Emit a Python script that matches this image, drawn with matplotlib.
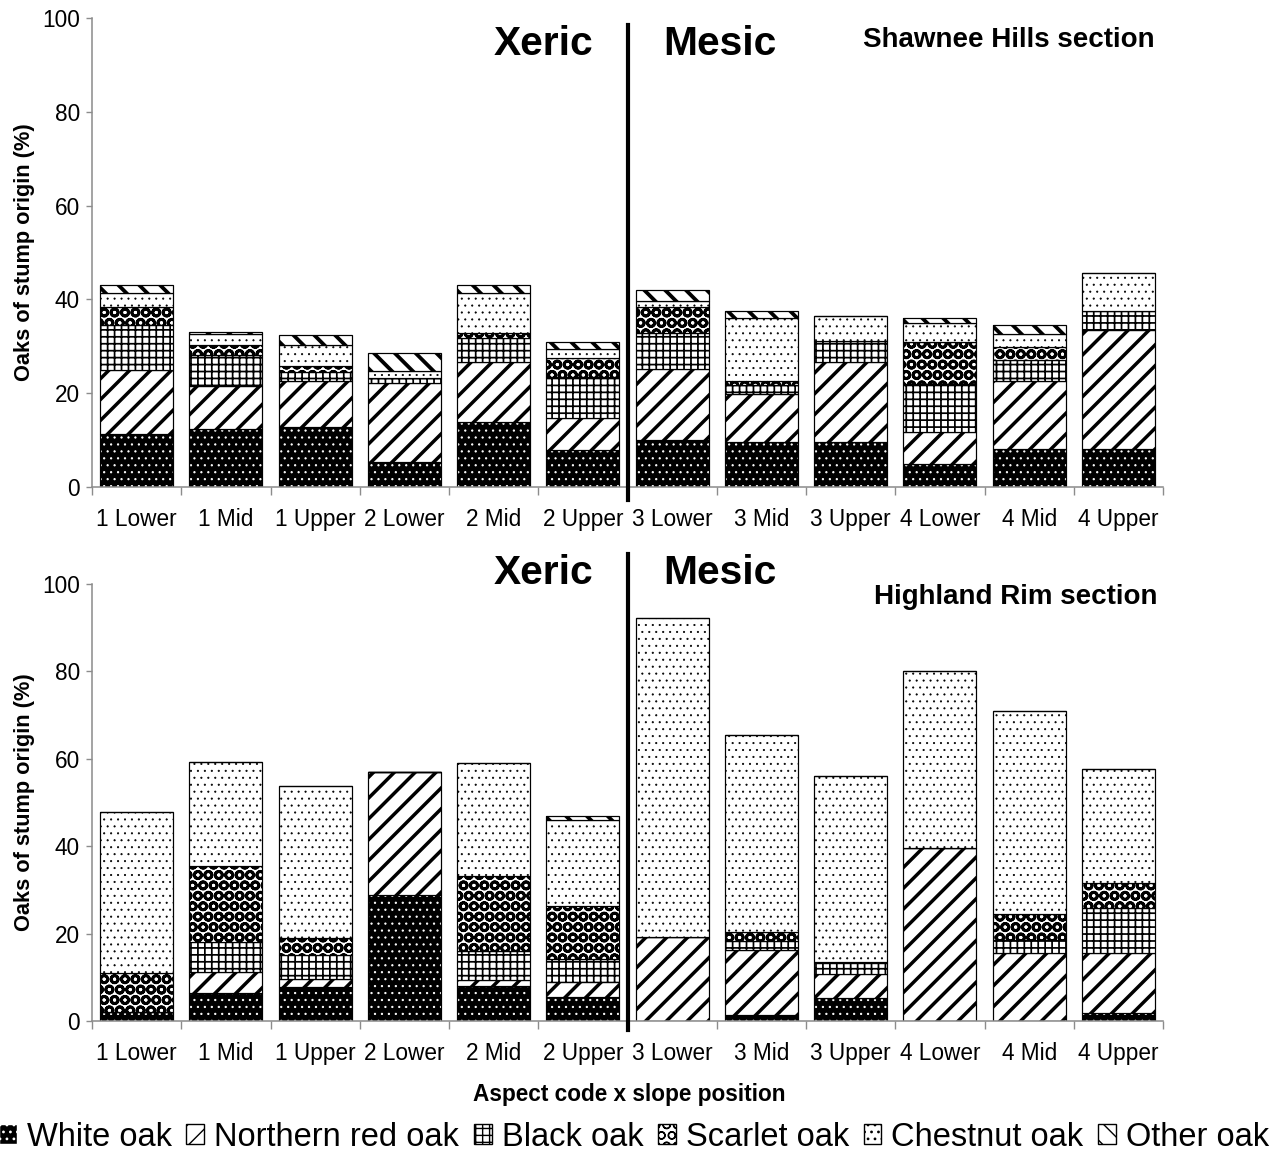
import matplotlib
matplotlib.use("Agg")
import matplotlib.pyplot as plt
from matplotlib.patches import Patch
import numpy as np

plt.rcParams['font.family'] = ['Liberation Sans', 'DejaVu Sans']

categories = ["1 Lower", "1 Mid", "1 Upper", "2 Lower", "2 Mid", "2 Upper",
              "3 Lower", "3 Mid", "3 Upper", "4 Lower", "4 Mid", "4 Upper"]
species = ["White oak", "Northern red oak", "Black oak", "Scarlet oak",
           "Chestnut oak", "Other oak"]

# Shawnee Hills section (% of oaks of stump origin, stacked)
sh_white = [11.2, 12.3, 12.7, 5.3, 13.9, 7.9, 10.0, 9.5, 9.7, 4.9, 8.2, 8.2]
sh_nro = [13.7, 9.2, 9.8, 16.9, 12.8, 6.9, 15.2, 10.3, 17.0, 6.9, 14.4, 25.3]
sh_black = [9.6, 6.6, 2.1, 1.0, 5.0, 8.7, 7.6, 1.9, 4.5, 10.2, 4.5, 4.0]
sh_scarlet = [3.9, 2.2, 1.2, 0.0, 1.1, 4.1, 5.6, 0.9, 0.0, 9.0, 2.7, 0.0]
sh_chestnut = [2.9, 2.3, 4.5, 1.6, 8.6, 1.8, 1.3, 13.4, 5.3, 3.9, 2.8, 8.2]
sh_other = [1.8, 0.5, 2.1, 3.8, 1.7, 1.6, 2.3, 1.5, 0.0, 1.2, 1.9, 0.0]

# Highland Rim section
hr_white = [2.1, 6.5, 7.7, 28.8, 8.0, 5.6, 0.0, 1.4, 5.3, 0.0, 0.0, 1.8]
hr_nro = [0.0, 4.6, 1.8, 28.1, 1.4, 3.4, 19.2, 14.8, 5.4, 39.7, 15.5, 13.7]
hr_black = [0.0, 6.9, 5.6, 0.0, 6.7, 5.3, 0.0, 2.1, 2.5, 0.0, 3.0, 10.3]
hr_scarlet = [8.8, 17.5, 4.0, 0.0, 17.1, 12.1, 0.0, 2.1, 0.4, 0.0, 6.0, 5.7]
hr_chestnut = [37.0, 23.8, 34.7, 0.0, 25.8, 19.6, 73.1, 45.0, 42.5, 40.5, 46.4, 26.2]
hr_other = [0.0, 0.0, 0.0, 0.0, 0.0, 0.8, 0.0, 0.0, 0.0, 0.0, 0.0, 0.0]

# face colour, hatch, hatch colour, hatch linewidth
styles = {
    "White oak": ("black", "...", "white", 0.5),
    "Northern red oak": ("white", "//", "black", 2.0),
    "Black oak": ("white", "+++", "black", 1.0),
    "Scarlet oak": ("white", "OO", "black", 1.6),
    "Chestnut oak": ("white", "...", "black", 0.4),
    "Other oak": ("white", "\\\\", "black", 2.2),
}

W, H, DPI = 1279, 1151, 125
fig = plt.figure(figsize=(W / DPI, H / DPI), dpi=DPI)


def fx(px):
    return px / W


def fy(py):
    return 1 - py / H


ax_top = fig.add_axes([fx(92), fy(487), 1071 / W, 469 / H])
ax_bot = fig.add_axes([fx(92), fy(1021), 1071 / W, 437 / H])


def draw_section(ax, series, line_top, line_bot):
    x = np.arange(len(categories))
    bottom = np.zeros(len(categories))
    for name, vals in zip(species, series):
        face, hatch, hcol, hlw = styles[name]
        vals = np.array(vals)
        plt.rcParams['hatch.linewidth'] = hlw
        bars = ax.bar(x, vals, 0.82, bottom=bottom, color=face,
                      edgecolor=hcol, hatch=hatch, linewidth=0)
        for b in bars:
            if hasattr(b, 'set_hatch_linewidth'):
                b.set_hatch_linewidth(hlw)
        ax.bar(x, vals, 0.82, bottom=bottom, fill=False,
               edgecolor='black', linewidth=0.7)
        bottom += vals

    ax.set_xlim(-0.5, len(categories) - 0.5)
    ax.set_ylim(0, 100)
    ax.set_yticks(range(0, 101, 20))
    ax.set_xticks(np.arange(-0.5, len(categories), 1.0))
    ax.set_xticklabels([])
    ax.set_xticks(x, minor=True)
    ax.set_xticklabels(categories, minor=True)
    for s in ['top', 'right']:
        ax.spines[s].set_visible(False)
    for s in ['left', 'bottom']:
        ax.spines[s].set_color('#8c8c8c')
        ax.spines[s].set_linewidth(0.9)
    ax.tick_params(axis='y', direction='out', length=3.5, color='#8c8c8c',
                   labelsize=13, pad=3.5)
    ax.tick_params(axis='x', which='major', direction='out', length=4.6,
                   color='#8c8c8c')
    ax.tick_params(axis='x', which='minor', length=0, labelsize=13, pad=12)
    ax.set_ylabel("Oaks of stump origin (%)", fontsize=12.5, fontweight='bold')
    ax.yaxis.set_label_coords(-0.053, 0.5)

    # xeric / mesic divider
    ax.plot([5.5, 5.5], [line_top, line_bot], color='black', linewidth=2.4,
            transform=ax.get_xaxis_transform(), clip_on=False, zorder=5)


draw_section(ax_top, [sh_white, sh_nro, sh_black, sh_scarlet, sh_chestnut, sh_other],
             0.985, -0.028)
draw_section(ax_bot, [hr_white, hr_nro, hr_black, hr_scarlet, hr_chestnut, hr_other],
             1.069, -0.021)

for y in (44, 573):
    fig.text(fx(543), fy(y), "Xeric", fontsize=23.5, fontweight='bold',
             ha='center', va='center')
    fig.text(fx(720), fy(y), "Mesic", fontsize=23.5, fontweight='bold',
             ha='center', va='center')

fig.text(fx(1155), fy(40), "Shawnee Hills section", fontsize=16,
         fontweight='bold', ha='right', va='center')
fig.text(fx(1158), fy(597), "Highland Rim section", fontsize=16,
         fontweight='bold', ha='right', va='center')

fig.text(fx(629), fy(1095), "Aspect code x slope position", fontsize=13,
         fontweight='bold', ha='center', va='center')

handles = []
for name in species:
    face, hatch, hcol, hlw = styles[name]
    plt.rcParams['hatch.linewidth'] = 0.8
    edge = 'black' if face == 'white' else hcol
    handles.append(Patch(facecolor=face, edgecolor=edge, hatch=hatch,
                         linewidth=0.8, label=name))

fig.legend(handles=handles, ncol=6, loc='center',
           bbox_to_anchor=(fx(634), fy(1137)), frameon=False, fontsize=18.8,
           handlelength=0.55, handleheight=0.55, handletextpad=0.3,
           columnspacing=0.45, borderaxespad=0, borderpad=0)

fig.savefig("out.png", dpi=DPI)
